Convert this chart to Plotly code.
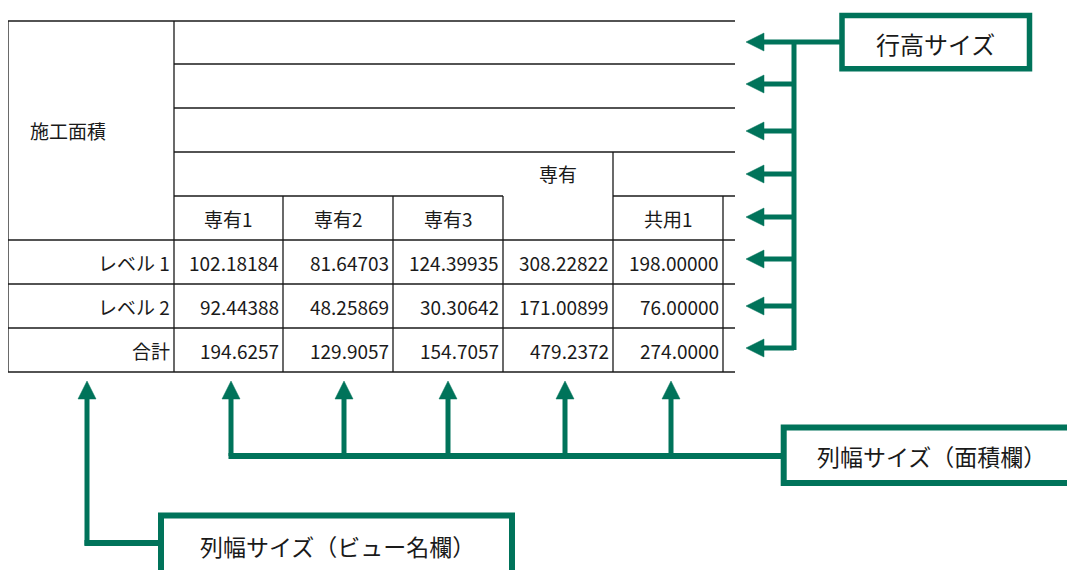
import plotly.graph_objects as go

# ---- table content ----
row_labels = ["レベル 1", "レベル 2", "合計"]
col_labels = ["専有1", "専有2", "専有3", "", "共用1"]
group_label = "専有"
corner_label = "施工面積"
vals_level1 = ["102.18184", "81.64703", "124.39935", "308.22822", "198.00000"]
vals_level2 = ["92.44388", "48.25869", "30.30642", "171.00899", "76.00000"]
vals_total = ["194.6257", "129.9057", "154.7057", "479.2372", "274.0000"]
callout_row = "行高サイズ"
callout_area = "列幅サイズ（面積欄）"
callout_view = "列幅サイズ（ビュー名欄）"

# ---- layout geometry (pixels) ----
W, H = 1075, 570
PAGE_OFF = 8  # default page margin of the html body
col_edges = [8, 174, 283, 393, 503, 613, 723]
table_right = 735
row_edges = [21, 64, 108, 152, 196, 240, 284, 328, 372]
row_arrow_y = [42, 84, 131, 174, 217, 259, 306, 348]
col_arrow_x = [87, 231, 344, 448, 565, 671]

GREEN = "#00735A"
INK = "#1a1a1a"
FONT_T = "Noto Sans CJK JP"

shapes = []
ann = []


def hline(x0, x1, y, color=INK, w=1.3):
    shapes.append(dict(type="line", xref="x", yref="y", x0=x0, x1=x1, y0=y, y1=y,
                       line=dict(color=color, width=w)))


def vline(x, y0, y1, color=INK, w=1.3):
    shapes.append(dict(type="line", xref="x", yref="y", x0=x, x1=x, y0=y0, y1=y1,
                       line=dict(color=color, width=w)))


# table grid
hline(col_edges[0], table_right, row_edges[0])
for y in row_edges[1:4]:
    hline(col_edges[1], table_right, y)
hline(col_edges[1], col_edges[4], row_edges[4])
hline(col_edges[5], table_right, row_edges[4])
for y in row_edges[5:]:
    hline(col_edges[0], table_right, y)
vline(col_edges[0], row_edges[0], row_edges[-1])
vline(col_edges[1], row_edges[0], row_edges[-1])
for x in [col_edges[2], col_edges[3], col_edges[4], col_edges[6]]:
    vline(x, row_edges[4], row_edges[-1])
vline(col_edges[5], row_edges[3], row_edges[-1])

# table text
TS = 19
ann.append(dict(x=29, y=130, text=corner_label, xanchor="left", yanchor="middle",
                font=dict(family=FONT_T, size=TS, color=INK)))
ann.append(dict(x=(col_edges[4] + col_edges[5]) / 2, y=(row_edges[3] + row_edges[4]) / 2 - 1,
                text=group_label, xanchor="center", yanchor="middle",
                font=dict(family=FONT_T, size=TS, color=INK)))
for i, lab in enumerate(col_labels):
    if lab:
        ann.append(dict(x=(col_edges[i + 1] + col_edges[i + 2]) / 2, y=(row_edges[4] + row_edges[5]) / 2,
                        text=lab, xanchor="center", yanchor="middle",
                        font=dict(family=FONT_T, size=TS, color=INK)))
for r, (lab, vals) in enumerate(zip(row_labels, [vals_level1, vals_level2, vals_total])):
    yc = (row_edges[5 + r] + row_edges[6 + r]) / 2
    ann.append(dict(x=col_edges[1] - 3, y=yc, text=lab, xanchor="right", yanchor="middle",
                    font=dict(family=FONT_T, size=TS, color=INK)))
    for c, v in enumerate(vals):
        ann.append(dict(x=col_edges[c + 2] - 3, y=yc, text=v, xanchor="right", yanchor="middle",
                        font=dict(family=FONT_T, size=TS, color=INK)))

# ---- green callouts ----
LW = 5
trunk_x = 794
for y in row_arrow_y:
    hline(760, trunk_x, y, GREEN, LW)
    shapes.append(dict(type="path", xref="x", yref="y",
                       path=f"M 746 {y} L 764 {y-9} L 764 {y+9} Z",
                       fillcolor=GREEN, line=dict(color=GREEN, width=0.5)))
vline(trunk_x, row_arrow_y[0] - 2, row_arrow_y[-1] + 2, GREEN, LW)
hline(trunk_x, 842, row_arrow_y[0], GREEN, LW)
shapes.append(dict(type="rect", xref="x", yref="y", x0=842, x1=1029.5, y0=15.5, y1=68.7,
                   line=dict(color=GREEN, width=5.5), fillcolor="white"))
ann.append(dict(x=935.5, y=43, text=callout_row, xanchor="center", yanchor="middle",
                font=dict(family=FONT_T, size=24, color=INK)))

tip_y, base_y = 381, 399
for x in col_arrow_x:
    shapes.append(dict(type="path", xref="x", yref="y",
                       path=f"M {x} {tip_y} L {x-9} {base_y} L {x+9} {base_y} Z",
                       fillcolor=GREEN, line=dict(color=GREEN, width=0.5)))
bus_y = 456
for x in col_arrow_x[1:]:
    vline(x, base_y - 2, bus_y, GREEN, LW)
hline(col_arrow_x[1] - 2.5, 784, bus_y, GREEN, 6)
vline(col_arrow_x[0], base_y - 2, 543 + 2.5, GREEN, LW)
hline(col_arrow_x[0] - 2.5, 161, 543, GREEN, 6)

shapes.append(dict(type="rect", xref="x", yref="y", x0=783.7, x1=1095, y0=427.5, y1=483,
                   line=dict(color=GREEN, width=6), fillcolor="white"))
ann.append(dict(x=931, y=456, text=callout_area, xanchor="center", yanchor="middle",
                font=dict(family=FONT_T, size=23, color=INK)))
shapes.append(dict(type="rect", xref="x", yref="y", x0=161, x1=512, y0=515.5, y1=600,
                   line=dict(color=GREEN, width=6), fillcolor="white"))
ann.append(dict(x=337, y=546, text=callout_view, xanchor="center", yanchor="middle",
                font=dict(family=FONT_T, size=23, color=INK)))

for a in ann:
    a.update(xref="x", yref="y", showarrow=False, borderpad=0)

fig = go.Figure()
fig.update_layout(
    width=W - PAGE_OFF, height=H - PAGE_OFF, margin=dict(l=0, r=0, t=0, b=0),
    paper_bgcolor="white", plot_bgcolor="white",
    xaxis=dict(range=[PAGE_OFF, W], visible=False, fixedrange=True),
    yaxis=dict(range=[H, PAGE_OFF], visible=False, fixedrange=True),
    shapes=shapes, annotations=ann, showlegend=False,
)
fig.write_html("out.html")
